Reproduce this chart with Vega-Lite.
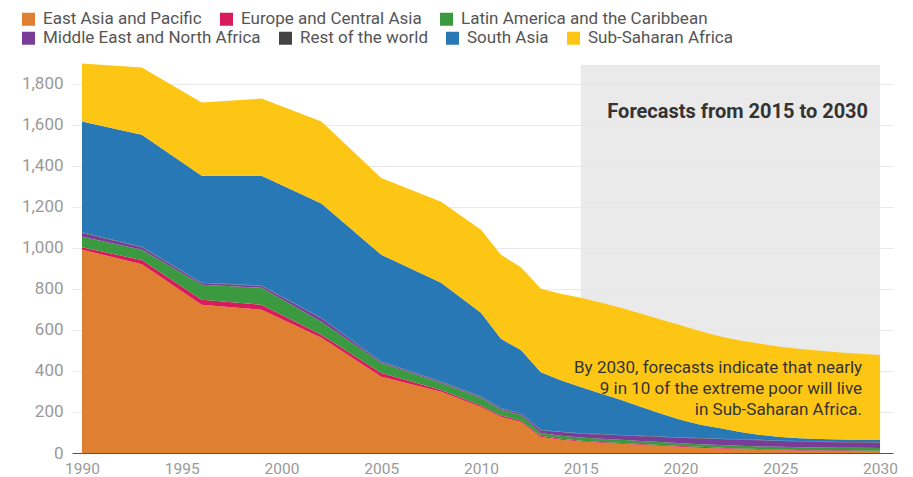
{
  "$schema": "https://vega.github.io/schema/vega-lite/v6.json",
  "width": 811,
  "height": 390,
  "autosize": {"type": "none"},
  "padding": {"left": 82, "top": 63, "right": 20, "bottom": 24},
  "background": "white",
  "config": {"font": "Roboto", "view": {"stroke": null}},
  "datasets": {
    "poverty": [
      {"year": 1990, "East Asia and Pacific": 990, "Europe and Central Asia": 12, "Latin America and the Caribbean": 52, "Middle East and North Africa": 18, "Rest of the world": 3, "South Asia": 540, "Sub-Saharan Africa": 283},
      {"year": 1993, "East Asia and Pacific": 920, "Europe and Central Asia": 20, "Latin America and the Caribbean": 50, "Middle East and North Africa": 12, "Rest of the world": 3, "South Asia": 546, "Sub-Saharan Africa": 327},
      {"year": 1996, "East Asia and Pacific": 722, "Europe and Central Asia": 24, "Latin America and the Caribbean": 74, "Middle East and North Africa": 8, "Rest of the world": 2, "South Asia": 521, "Sub-Saharan Africa": 356},
      {"year": 1999, "East Asia and Pacific": 698, "Europe and Central Asia": 24, "Latin America and the Caribbean": 83, "Middle East and North Africa": 9, "Rest of the world": 2, "South Asia": 535, "Sub-Saharan Africa": 376},
      {"year": 2002, "East Asia and Pacific": 561, "Europe and Central Asia": 15, "Latin America and the Caribbean": 63, "Middle East and North Africa": 17, "Rest of the world": 2, "South Asia": 557, "Sub-Saharan Africa": 400},
      {"year": 2005, "East Asia and Pacific": 371, "Europe and Central Asia": 19, "Latin America and the Caribbean": 49, "Middle East and North Africa": 5, "Rest of the world": 2, "South Asia": 520, "Sub-Saharan Africa": 374},
      {"year": 2008, "East Asia and Pacific": 298, "Europe and Central Asia": 9, "Latin America and the Caribbean": 34, "Middle East and North Africa": 5, "Rest of the world": 2, "South Asia": 481, "Sub-Saharan Africa": 395},
      {"year": 2010, "East Asia and Pacific": 224, "Europe and Central Asia": 8, "Latin America and the Caribbean": 36, "Middle East and North Africa": 5, "Rest of the world": 2, "South Asia": 408, "Sub-Saharan Africa": 405},
      {"year": 2011, "East Asia and Pacific": 176, "Europe and Central Asia": 7, "Latin America and the Caribbean": 27, "Middle East and North Africa": 6, "Rest of the world": 2, "South Asia": 338, "Sub-Saharan Africa": 410},
      {"year": 2012, "East Asia and Pacific": 151, "Europe and Central Asia": 6, "Latin America and the Caribbean": 28, "Middle East and North Africa": 7, "Rest of the world": 2, "South Asia": 308, "Sub-Saharan Africa": 403},
      {"year": 2013, "East Asia and Pacific": 78, "Europe and Central Asia": 6, "Latin America and the Caribbean": 14, "Middle East and North Africa": 12, "Rest of the world": 2, "South Asia": 281, "Sub-Saharan Africa": 407},
      {"year": 2014, "East Asia and Pacific": 64, "Europe and Central Asia": 5, "Latin America and the Caribbean": 15, "Middle East and North Africa": 18, "Rest of the world": 2, "South Asia": 251, "Sub-Saharan Africa": 421},
      {"year": 2015, "East Asia and Pacific": 56, "Europe and Central Asia": 4, "Latin America and the Caribbean": 15, "Middle East and North Africa": 19, "Rest of the world": 2, "South Asia": 226, "Sub-Saharan Africa": 434},
      {"year": 2016, "East Asia and Pacific": 50, "Europe and Central Asia": 4, "Latin America and the Caribbean": 15, "Middle East and North Africa": 21, "Rest of the world": 2, "South Asia": 198, "Sub-Saharan Africa": 443},
      {"year": 2017, "East Asia and Pacific": 45, "Europe and Central Asia": 4, "Latin America and the Caribbean": 15, "Middle East and North Africa": 22, "Rest of the world": 2, "South Asia": 171, "Sub-Saharan Africa": 449},
      {"year": 2018, "East Asia and Pacific": 40, "Europe and Central Asia": 4, "Latin America and the Caribbean": 14, "Middle East and North Africa": 24, "Rest of the world": 2, "South Asia": 141, "Sub-Saharan Africa": 455},
      {"year": 2019, "East Asia and Pacific": 35, "Europe and Central Asia": 4, "Latin America and the Caribbean": 14, "Middle East and North Africa": 25, "Rest of the world": 2, "South Asia": 112, "Sub-Saharan Africa": 458},
      {"year": 2020, "East Asia and Pacific": 30, "Europe and Central Asia": 4, "Latin America and the Caribbean": 14, "Middle East and North Africa": 26, "Rest of the world": 2, "South Asia": 86, "Sub-Saharan Africa": 460},
      {"year": 2021, "East Asia and Pacific": 26, "Europe and Central Asia": 4, "Latin America and the Caribbean": 13, "Middle East and North Africa": 28, "Rest of the world": 2, "South Asia": 65, "Sub-Saharan Africa": 455},
      {"year": 2022, "East Asia and Pacific": 22, "Europe and Central Asia": 4, "Latin America and the Caribbean": 13, "Middle East and North Africa": 29, "Rest of the world": 2, "South Asia": 50, "Sub-Saharan Africa": 448},
      {"year": 2023, "East Asia and Pacific": 19, "Europe and Central Asia": 3, "Latin America and the Caribbean": 13, "Middle East and North Africa": 30, "Rest of the world": 2, "South Asia": 35, "Sub-Saharan Africa": 446},
      {"year": 2024, "East Asia and Pacific": 16, "Europe and Central Asia": 3, "Latin America and the Caribbean": 13, "Middle East and North Africa": 30, "Rest of the world": 2, "South Asia": 24, "Sub-Saharan Africa": 444},
      {"year": 2025, "East Asia and Pacific": 14, "Europe and Central Asia": 3, "Latin America and the Caribbean": 13, "Middle East and North Africa": 28, "Rest of the world": 2, "South Asia": 18, "Sub-Saharan Africa": 440},
      {"year": 2026, "East Asia and Pacific": 12, "Europe and Central Asia": 3, "Latin America and the Caribbean": 13, "Middle East and North Africa": 28, "Rest of the world": 2, "South Asia": 14, "Sub-Saharan Africa": 435},
      {"year": 2027, "East Asia and Pacific": 11, "Europe and Central Asia": 3, "Latin America and the Caribbean": 13, "Middle East and North Africa": 27, "Rest of the world": 2, "South Asia": 12, "Sub-Saharan Africa": 430},
      {"year": 2028, "East Asia and Pacific": 10, "Europe and Central Asia": 3, "Latin America and the Caribbean": 13, "Middle East and North Africa": 26, "Rest of the world": 2, "South Asia": 12, "Sub-Saharan Africa": 424},
      {"year": 2029, "East Asia and Pacific": 9, "Europe and Central Asia": 3, "Latin America and the Caribbean": 13, "Middle East and North Africa": 26, "Rest of the world": 2, "South Asia": 11, "Sub-Saharan Africa": 420},
      {"year": 2030, "East Asia and Pacific": 8, "Europe and Central Asia": 3, "Latin America and the Caribbean": 13, "Middle East and North Africa": 26, "Rest of the world": 2, "South Asia": 11, "Sub-Saharan Africa": 415}
    ]
  },
  "layer": [
    {
      "data": {"values": [{"start": 2015, "end": 2030, "low": 0, "high": 1890}]},
      "mark": {"type": "rect", "color": "#e6e6e6", "opacity": 0.85},
      "encoding": {
        "x": {
          "field": "start", "type": "quantitative",
          "scale": {"domain": [1990, 2030.65], "nice": false, "zero": false},
          "axis": {"title": null, "values": [1990, 1995, 2000, 2005, 2010, 2015, 2020, 2025, 2030], "format": "d", "labelFontSize": 15.5, "labelColor": "#999999", "grid": false, "ticks": false, "domain": false, "labelPadding": 8, "labelFlush": false}
        },
        "x2": {"field": "end"},
        "y": {
          "field": "low", "type": "quantitative",
          "scale": {"domain": [0, 1900], "nice": false},
          "axis": {"title": null, "values": [0, 200, 400, 600, 800, 1000, 1200, 1400, 1600, 1800], "format": ",.0f", "labelFontSize": 17, "labelColor": "#999999", "domain": false, "tickSize": 10, "labelPadding": 9,
            "gridColor": {"condition": {"test": "datum.value === 0", "value": "#555555"}, "value": "#e9e9e9"},
            "tickColor": {"condition": {"test": "datum.value === 0", "value": "#555555"}, "value": "#e9e9e9"}}
        },
        "y2": {"field": "high"}
      }
    },
    {
      "data": {"name": "poverty"},
      "transform": [
        {"fold": ["East Asia and Pacific", "Europe and Central Asia", "Latin America and the Caribbean", "Middle East and North Africa", "Rest of the world", "South Asia", "Sub-Saharan Africa"], "as": ["region", "value"]}
      ],
      "mark": {"type": "area", "interpolate": "linear"},
      "encoding": {
        "x": {"field": "year", "type": "quantitative", "title": null},
        "y": {"field": "value", "type": "quantitative", "stack": "zero", "title": null},
        "order": {"field": "region", "sort": "ascending"},
        "color": {
          "field": "region", "type": "nominal",
          "scale": {
            "domain": ["East Asia and Pacific", "Europe and Central Asia", "Latin America and the Caribbean", "Middle East and North Africa", "Rest of the world", "South Asia", "Sub-Saharan Africa"],
            "range": ["#df7f32", "#d81b5b", "#3b9a3f", "#7a3d97", "#444444", "#2878b6", "#fec614"]
          },
          "legend": null
        }
      }
    },
    {
      "data": {"values": [{"year": 2029.4, "value": 1663, "label": "Forecasts from 2015 to 2030"}]},
      "mark": {"type": "text", "align": "right", "baseline": "middle", "fontSize": 20, "fontWeight": "bold", "color": "#333333"},
      "encoding": {
        "x": {"field": "year", "type": "quantitative", "title": null},
        "y": {"field": "value", "type": "quantitative", "title": null},
        "text": {"field": "label"}
      }
    },
    {
      "data": {"values": [{"year": 2029.1, "value": 414, "label": ["By 2030, forecasts indicate that nearly", "9 in 10 of the extreme poor will live", "in Sub-Saharan Africa."]}]},
      "mark": {"type": "text", "align": "right", "baseline": "middle", "fontSize": 17, "lineHeight": 21, "color": "#333333"},
      "encoding": {
        "x": {"field": "year", "type": "quantitative", "title": null},
        "y": {"field": "value", "type": "quantitative", "title": null},
        "text": {"field": "label"}
      }
    },
    {
      "data": {"values": [{"region": "East Asia and Pacific"}, {"region": "Europe and Central Asia"}, {"region": "Latin America and the Caribbean"}]},
      "mark": {"type": "square", "opacity": 0},
      "encoding": {
        "color": {
          "field": "region", "type": "nominal",
          "scale": {"domain": ["East Asia and Pacific", "Europe and Central Asia", "Latin America and the Caribbean"], "range": ["#df7f32", "#d81b5b", "#3b9a3f"]},
          "legend": {"orient": "none", "legendX": -62, "legendY": -52.5, "direction": "horizontal", "title": null, "symbolType": "square", "symbolSize": 169, "symbolOpacity": 1, "symbolStrokeWidth": 0, "labelFontSize": 17, "labelColor": "#555555", "labelFont": "Roboto", "columnPadding": 16, "labelOffset": 6, "labelLimit": 400}
        }
      }
    },
    {
      "data": {"values": [{"region": "Middle East and North Africa"}, {"region": "Rest of the world"}, {"region": "South Asia"}, {"region": "Sub-Saharan Africa"}]},
      "mark": {"type": "square", "opacity": 0},
      "encoding": {
        "color": {
          "field": "region", "type": "nominal",
          "scale": {"domain": ["Middle East and North Africa", "Rest of the world", "South Asia", "Sub-Saharan Africa"], "range": ["#7a3d97", "#444444", "#2878b6", "#fec614"]},
          "legend": {"orient": "none", "legendX": -62, "legendY": -33.5, "direction": "horizontal", "title": null, "symbolType": "square", "symbolSize": 169, "symbolOpacity": 1, "symbolStrokeWidth": 0, "labelFontSize": 17, "labelColor": "#555555", "labelFont": "Roboto", "columnPadding": 16, "labelOffset": 6, "labelLimit": 400}
        }
      }
    }
  ],
  "resolve": {"scale": {"color": "independent"}}
}
